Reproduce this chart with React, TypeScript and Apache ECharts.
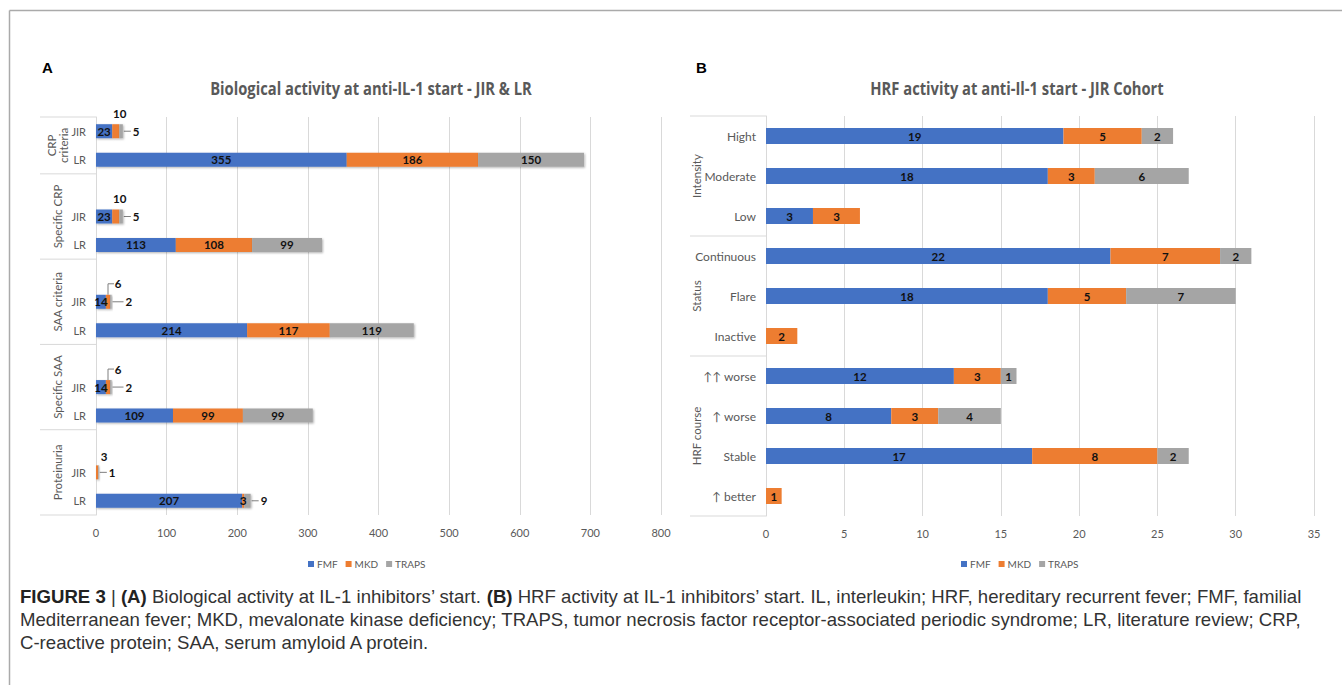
import React, { useEffect, useRef } from "react";
import * as echarts from "echarts";

// ---------- data: panel A ----------
const leftRowLabels = ["JIR", "LR", "", "JIR", "LR", "", "JIR", "LR", "", "JIR", "LR", "", "JIR", "LR"];
const leftFMF = [23, 355, null, 23, 113, null, 14, 214, null, 14, 109, null, null, 207];
const leftMKD = [10, 186, null, 10, 108, null, 6, 117, null, 6, 99, null, 3, 3];
const leftTRAPS = [5, 150, null, 5, 99, null, 2, 119, null, 2, 99, null, 1, 9];
const leftGroups = [
  { name: "CRP\ncriteria", from: 0, to: 1 },
  { name: "Specific CRP", from: 2, to: 4 },
  { name: "SAA criteria", from: 5, to: 7 },
  { name: "Specific SAA", from: 8, to: 10 },
  { name: "Proteinuria", from: 11, to: 13 },
];
const leftTicks = [0, 100, 200, 300, 400, 500, 600, 700, 800];

// ---------- data: panel B ----------
const rightCategories = ["Hight", "Moderate", "Low", "Continuous", "Flare", "Inactive", "↑↑ worse", "↑ worse", "Stable", "↑ better"];
const rightFMF = [19, 18, 3, 22, 18, null, 12, 8, 17, null];
const rightMKD = [5, 3, 3, 7, 5, 2, 3, 3, 8, 1];
const rightTRAPS = [2, 6, null, 2, 7, null, 1, 4, 2, null];
const rightGroups = [
  { name: "Intensity", from: 0, to: 2 },
  { name: "Status", from: 3, to: 5 },
  { name: "HRF course", from: 6, to: 9 },
];
const rightTicks = [0, 5, 10, 15, 20, 25, 30, 35];

const seriesNames = ["FMF", "MKD", "TRAPS"];
const colors = ["#4472C4", "#ED7D31", "#A5A5A5"];

const titleA = "Biological activity at anti-IL-1 start - JIR & LR";
const titleB = "HRF activity at anti-Il-1 start - JIR Cohort";
const captionLines = [
  "{b|FIGURE 3}{n| | }{b|(A)}{n| Biological activity at IL-1 inhibitors’ start. }{b|(B)}{n| HRF activity at IL-1 inhibitors’ start. IL, interleukin; HRF, hereditary recurrent fever; FMF, familial}",
  "{n|Mediterranean fever; MKD, mevalonate kinase deficiency; TRAPS, tumor necrosis factor receptor-associated periodic syndrome; LR, literature review; CRP,}",
  "{n|C-reactive protein; SAA, serum amyloid A protein.}",
];

const FONT = "Lato, 'Open Sans', sans-serif";
const TITLE_FONT = "'Open Sans', Lato, sans-serif";
const CAP_FONT = "'Liberation Sans', Arial, sans-serif";
const GRAY = "#595959";

export default function App() {
  const ref = useRef<HTMLDivElement>(null);

  useEffect(() => {
    document.body.style.margin = "0";
    const chart = echarts.init(ref.current!, null, { renderer: "svg" });
    const leftKeys = leftRowLabels.map((l, i) => `${i}|${l}`);
    const isJIR = (i: number) => leftRowLabels[i] === "JIR";
    const isLR = (i: number) => leftRowLabels[i] === "LR";
    const groupOf = (i: number) => leftGroups.findIndex((g) => i >= g.from && i <= g.to);
    const lastGroup = leftGroups.length - 1;
    const outsideTraps = (i: number) => isJIR(i) || (groupOf(i) === lastGroup && isLR(i));
    const bracketGroup = (g: number) => g === 2 || g === 3;

    const labelBase = {
      show: true,
      position: "inside",
      fontFamily: FONT,
      fontWeight: "bold",
      fontSize: 11.5,
      color: "#111",
      formatter: (p: any) => (p.value ? String(p.value) : ""),
    };

    const leftData = [leftFMF, leftMKD, leftTRAPS];
    const leftSeries = leftData.map((vals, si) => ({
      type: "bar",
      name: seriesNames[si],
      stack: "A",
      xAxisIndex: 0,
      yAxisIndex: 0,
      barWidth: 14,
      itemStyle: { color: colors[si], shadowBlur: 2, shadowColor: "rgba(0,0,0,0.3)", shadowOffsetX: 1, shadowOffsetY: 1 },
      label: labelBase,
      data: vals.map((v, i) => {
        if (v == null) return null;
        const g = groupOf(i);
        if (si === 1 && isJIR(i)) {
          const off = bracketGroup(g) ? [10, 0] : g === lastGroup ? [7, 2] : [4, 0];
          return { value: v, label: { position: "top", distance: 5, offset: off } };
        }
        if (si === 2 && outsideTraps(i)) {
          return { value: v, label: { position: "right", distance: bracketGroup(g) ? 14 : 10 } };
        }
        return v;
      }),
    }));

    const rightData = [rightFMF, rightMKD, rightTRAPS];
    const rightSeries = rightData.map((vals, si) => ({
      type: "bar",
      name: seriesNames[si],
      stack: "B",
      xAxisIndex: 1,
      yAxisIndex: 1,
      barWidth: 16,
      itemStyle: { color: colors[si] },
      label: labelBase,
      data: vals,
    }));

    const axisLabelStyle = { color: GRAY, fontFamily: FONT, fontSize: 11 };

    chart.setOption({
      animation: false,
      backgroundColor: "#fff",
      legend: [
        { data: seriesNames, left: 303, top: 554, icon: "rect", itemWidth: 6, itemHeight: 6, itemGap: 8, textStyle: { color: GRAY, fontFamily: FONT, fontSize: 10, padding: [0, 0, 0, -2] } },
        { data: seriesNames, left: 956, top: 554, icon: "rect", itemWidth: 6, itemHeight: 6, itemGap: 8, textStyle: { color: GRAY, fontFamily: FONT, fontSize: 10, padding: [0, 0, 0, -2] } },
      ],
      grid: [
        { left: 96, top: 117, width: 565, height: 398 },
        { left: 766, top: 116, width: 548, height: 400 },
      ],
      xAxis: [
        {
          gridIndex: 0, type: "value", min: leftTicks[0], max: leftTicks[leftTicks.length - 1], interval: leftTicks[1] - leftTicks[0],
          axisLine: { show: false }, axisTick: { show: false }, axisLabel: { ...axisLabelStyle, margin: 12 },
          splitLine: { lineStyle: { color: "#d9d9d9" } },
        },
        {
          gridIndex: 1, type: "value", min: rightTicks[0], max: rightTicks[rightTicks.length - 1], interval: rightTicks[1] - rightTicks[0],
          axisLine: { show: false }, axisTick: { show: false }, axisLabel: { ...axisLabelStyle, margin: 12 },
          splitLine: { lineStyle: { color: "#d9d9d9" } },
        },
      ],
      yAxis: [
        {
          gridIndex: 0, type: "category", inverse: true, data: leftKeys,
          axisLine: { lineStyle: { color: "#d9d9d9" } }, axisTick: { show: false },
          axisLabel: { ...axisLabelStyle, margin: 10, interval: 0, formatter: (v: string) => v.split("|")[1] },
        },
        {
          gridIndex: 1, type: "category", inverse: true, data: rightCategories,
          axisLine: { lineStyle: { color: "#d9d9d9" } }, axisTick: { show: false },
          axisLabel: { ...axisLabelStyle, fontSize: 12, margin: 10, interval: 0 },
        },
      ],
      series: [...leftSeries, ...rightSeries],
    });

    // ---- decorations computed from the axes ----
    const px = (ax: number, v: number) => chart.convertToPixel({ xAxisIndex: ax }, v) as number;
    const py = (ax: number, v: any) => chart.convertToPixel({ yAxisIndex: ax }, v) as number;
    const els: any[] = [];
    const lineStyle = { stroke: "#d9d9d9", lineWidth: 1 };

    // frame
    els.push({ type: "line", shape: { x1: 9.5, y1: 10.5, x2: 1342, y2: 10.5 }, style: { stroke: "#aaa", lineWidth: 1.5 } });
    els.push({ type: "line", shape: { x1: 9.5, y1: 10.5, x2: 9.5, y2: 685 }, style: { stroke: "#aaa", lineWidth: 1.5 } });
    // panel letters
    els.push({ type: "text", x: 42, y: 60, style: { text: "A", font: "bold 15px 'Liberation Sans', Arial, sans-serif", fill: "#000" } });
    els.push({ type: "text", x: 696, y: 60, style: { text: "B", font: "bold 15px 'Liberation Sans', Arial, sans-serif", fill: "#000" } });
    // chart titles (condensed to match the reference's narrow face)
    els.push({ type: "text", x: 371, y: 88, scaleX: 0.82, style: { text: titleA, align: "center", verticalAlign: "middle", fontFamily: TITLE_FONT, fontWeight: "bold", fontSize: 18, fill: GRAY } });
    els.push({ type: "text", x: 1017, y: 88, scaleX: 0.82, style: { text: titleB, align: "center", verticalAlign: "middle", fontFamily: TITLE_FONT, fontWeight: "bold", fontSize: 18, fill: GRAY } });

    // group boxes: panel A
    const bandL = py(0, leftKeys[1]) - py(0, leftKeys[0]);
    const x0L = px(0, 0);
    leftGroups.forEach((g, gi) => {
      const top = py(0, leftKeys[g.from]) - bandL / 2;
      const bot = py(0, leftKeys[g.to]) + bandL / 2;
      els.push({ type: "line", shape: { x1: 40, y1: top, x2: x0L, y2: top }, style: lineStyle });
      if (gi === lastGroup) els.push({ type: "line", shape: { x1: 40, y1: bot, x2: x0L, y2: bot }, style: lineStyle });
      els.push({
        type: "text", x: 57, y: (top + bot) / 2, rotation: Math.PI / 2,
        style: { text: g.name, align: "center", verticalAlign: "middle", fontFamily: FONT, fontSize: 11.5, lineHeight: 12, fill: GRAY },
      });
    });
    // group boxes: panel B
    const bandR = py(1, rightCategories[1]) - py(1, rightCategories[0]);
    const x0R = px(1, 0);
    rightGroups.forEach((g, gi) => {
      const top = py(1, rightCategories[g.from]) - bandR / 2;
      const bot = py(1, rightCategories[g.to]) + bandR / 2;
      els.push({ type: "line", shape: { x1: 690, y1: top, x2: x0R, y2: top }, style: lineStyle });
      if (gi === rightGroups.length - 1) els.push({ type: "line", shape: { x1: 690, y1: bot, x2: x0R, y2: bot }, style: lineStyle });
      els.push({
        type: "text", x: 696, y: (top + bot) / 2, rotation: Math.PI / 2,
        style: { text: g.name, align: "center", verticalAlign: "middle", fontFamily: FONT, fontSize: 11.5, fill: GRAY },
      });
    });

    // leader lines for outside labels (panel A)
    const lead = { stroke: "#7f7f7f", lineWidth: 1 };
    leftKeys.forEach((k, i) => {
      const g = groupOf(i);
      const y = py(0, k);
      const f = leftFMF[i] || 0, m = leftMKD[i] || 0, t = leftTRAPS[i] || 0;
      if (outsideTraps(i)) {
        const end = px(0, f + m + t);
        const dist = bracketGroup(g) ? 14 : 10;
        els.push({ type: "line", shape: { x1: end + 1, y1: y, x2: end + dist - 2, y2: y }, style: lead });
      }
      if (isJIR(i) && bracketGroup(g)) {
        const cx = px(0, f + m / 2);
        els.push({ type: "polyline", shape: { points: [[cx, y - 7], [cx, y - 18], [cx + 6, y - 18]] }, style: { ...lead, fill: "none" } });
      }
    });

    // caption
    const CS = 18.6;
    captionLines.forEach((t, i) => {
      els.push({
        type: "text", x: 20, y: 596 + i * 23,
        style: {
          text: t, verticalAlign: "middle", fontFamily: CAP_FONT, fontSize: CS, fill: "#333",
          rich: { b: { fontWeight: "bold", fontFamily: CAP_FONT, fontSize: CS, fill: "#222" }, n: { fontFamily: CAP_FONT, fontSize: CS, fill: "#333" } },
        },
      });
    });

    chart.setOption({ graphic: els });
    return () => chart.dispose();
  }, []);

  return <div ref={ref} style={{ width: 1342, height: 685 }} />;
}
